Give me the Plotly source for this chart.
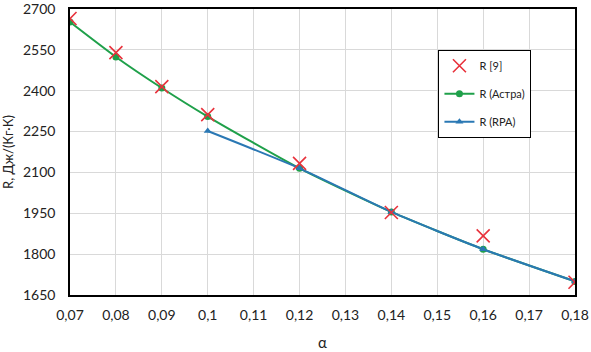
import plotly.graph_objects as go

alpha = [0.07, 0.08, 0.09, 0.10, 0.12, 0.14, 0.16, 0.18]
r_ref = [2665, 2540, 2415, 2312, 2133, 1953, 1867, 1697]
alpha_astra = [0.07, 0.08, 0.09, 0.10, 0.12, 0.14, 0.16, 0.18]
r_astra = [2652, 2524, 2410, 2305, 2115, 1955, 1818, 1700]
alpha_rpa = [0.10, 0.12, 0.14, 0.16, 0.18]
r_rpa = [2252, 2115, 1955, 1818, 1700]

x_ticks = [0.07, 0.08, 0.09, 0.10, 0.11, 0.12, 0.13, 0.14, 0.15, 0.16, 0.17, 0.18]
x_tick_text = ["0,07", "0,08", "0,09", "0,1", "0,11", "0,12", "0,13", "0,14", "0,15", "0,16", "0,17", "0,18"]
y_ticks = [1650, 1800, 1950, 2100, 2250, 2400, 2550, 2700]

fig = go.Figure()
fig.add_trace(go.Scatter(
    x=alpha_astra, y=r_astra, name="R (Астра)", mode="lines+markers",
    legendrank=2, legendgroup="b",
    line=dict(color="#1fa04a", width=2, shape="spline", smoothing=0.6),
    marker=dict(symbol="circle", size=7, color="#1fa04a"),
))
fig.add_trace(go.Scatter(
    x=alpha_rpa, y=r_rpa, name="R (RPA)", mode="lines+markers",
    legendrank=3, legendgroup="c",
    line=dict(color="#2a78b4", width=2, shape="spline", smoothing=0.6),
    marker=dict(symbol="triangle-up", size=7, color="#2a78b4"),
))
fig.add_trace(go.Scatter(
    x=alpha, y=r_ref, name="R [9]", mode="markers",
    legendrank=1, legendgroup="a",
    marker=dict(symbol="x-thin", size=13, line=dict(color="#e8323c", width=1.6), color="#e8323c"),
))

fig.update_layout(
    width=591, height=352,
    margin=dict(l=70, r=16, t=9, b=57),
    paper_bgcolor="white", plot_bgcolor="white",
    font=dict(family="Lato, Liberation Sans, sans-serif", size=14, color="#222"),
    legend=dict(
        x=0.729, y=0.857, xanchor="left", yanchor="top",
        bgcolor="white", bordercolor="black", borderwidth=1.3,
        traceorder="grouped", font=dict(size=11), tracegroupgap=9,
        itemwidth=30,
    ),
    showlegend=True,
)
fig.update_xaxes(
    range=[0.07, 0.18], tickvals=x_ticks, ticktext=x_tick_text,
    showgrid=True, gridcolor="#d9d9d9", gridwidth=1,
    showline=True, linecolor="black", linewidth=1.5, mirror=True,
    ticks="", ticklabelstandoff=6, ticklabeloverflow="allow",
    title=dict(text="α", font=dict(size=15), standoff=16),
    zeroline=False, automargin=False,
)
fig.update_yaxes(
    range=[1650, 2700], tickvals=y_ticks,
    showgrid=True, gridcolor="#d9d9d9", gridwidth=1,
    showline=True, linecolor="black", linewidth=1.5, mirror=True,
    ticks="", ticklabelstandoff=10, ticklabeloverflow="allow",
    title=dict(text="R, Дж/(Кг·К)", font=dict(size=13), standoff=8),
    zeroline=False, automargin=False,
)

fig.write_html(
    "out.html",
    config={"displayModeBar": False},
    post_script="document.body.style.margin='0';document.body.style.overflow='hidden';",
)
